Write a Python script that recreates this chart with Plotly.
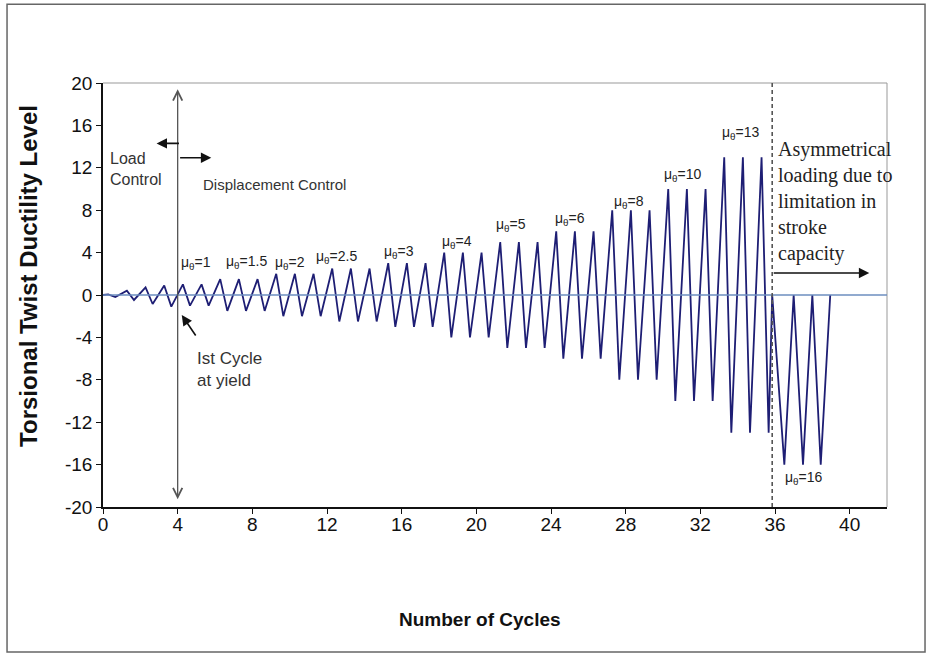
import plotly.graph_objects as go

# ---------------- data ----------------
# one entry per loading cycle (cycle n starts at n)
peak_values = [0.05, 0.4, 0.72, 0.9, 1, 1,
               1.5, 1.5, 1.5, 2, 2, 2, 2.5, 2.5, 2.5,
               3, 3, 3, 4, 4, 4, 5, 5, 5, 6, 6, 6,
               8, 8, 8, 10, 10, 10, 13, 13, 13]
trough_values = [-0.2, -0.47, -0.85, -1.1, -1, -1,
                 -1.5, -1.5, -1.5, -2, -2, -2, -2.5, -2.5, -2.5,
                 -3, -3, -3, -4, -4, -4, -5, -5, -5, -6, -6, -6,
                 -8, -8, -8, -10, -10, -10, -13, -13, -13]
peak_phase = 0.28     # position of the peak within a cycle
trough_phase = 0.66   # position of the trough within a cycle

# asymmetrical tail (stroke limitation)
tail_cycles = [35.85, 36.5, 37.0, 37.5, 38.0, 38.45, 38.96]
tail_values = [0, -16, 0, -16, 0, -16, 0]

# ductility level labels
mu_labels = ["1", "1.5", "2", "2.5", "3", "4", "5", "6", "8", "10", "13", "16"]
mu_label_x = [5.0, 7.68, 10.04, 12.5, 15.84, 18.97, 21.86, 25.0, 28.2, 31.07, 34.13, 37.5]
mu_label_y = [3.05, 3.14, 3.05, 3.6, 4.08, 5.03, 6.6, 7.14, 8.8, 11.3, 15.25, -17.3]

x_ticks = list(range(0, 41, 4))
x_tick_text = [str(v) for v in x_ticks]
y_ticks = list(range(-20, 21, 4))
y_tick_text = ["-20", "-16", "-12", "-8", "-4", "0", "4", "8", "12", "16", "20"]

# ---------------- build series ----------------
xs, ys = [0.0], [0.0]
for n, (p, t) in enumerate(zip(peak_values, trough_values)):
    xs += [n + peak_phase, n + trough_phase]
    ys += [p, t]
xs += tail_cycles
ys += tail_values

fig = go.Figure()
fig.add_trace(go.Scatter(x=xs, y=ys, mode="lines",
                         line=dict(color="#1e1e74", width=1.8),
                         hoverinfo="skip", showlegend=False))

SANS = "Liberation Sans, Arial, sans-serif"
SERIF = "Liberation Serif, Times New Roman, serif"

ann = []
for lab, lx, ly in zip(mu_labels, mu_label_x, mu_label_y):
    ann.append(dict(x=lx, y=ly, xref="x", yref="y", showarrow=False,
                    text="μ<sub>θ</sub>=" + lab,
                    font=dict(family=SANS, size=14, color="#222")))

# vertical double arrow at cycle 4
ann.append(dict(x=4, y=19.4, ax=4, ay=-19.4, xref="x", yref="y",
                axref="x", ayref="y", text="", showarrow=True,
                arrowhead=5, startarrowhead=5, arrowside="end+start",
                arrowsize=1.4, startarrowsize=1.4, arrowwidth=1.3,
                arrowcolor="#555"))
# load / displacement control arrows
ann.append(dict(x=2.87, y=14.3, ax=4.15, ay=14.3, xref="x", yref="y",
                axref="x", ayref="y", text="", showarrow=True,
                arrowhead=2, arrowsize=1.3, arrowwidth=1.6, arrowcolor="#111"))
ann.append(dict(x=5.8, y=12.95, ax=4.05, ay=12.95, xref="x", yref="y",
                axref="x", ayref="y", text="", showarrow=True,
                arrowhead=2, arrowsize=1.3, arrowwidth=1.6, arrowcolor="#111"))
# first cycle at yield arrow
ann.append(dict(x=4.22, y=-1.89, ax=5.02, ay=-3.96, xref="x", yref="y",
                axref="x", ayref="y", text="", showarrow=True,
                arrowhead=2, arrowsize=1.3, arrowwidth=1.6, arrowcolor="#111"))
# stroke arrow
ann.append(dict(x=41.05, y=2.07, ax=35.85, ay=2.07, xref="x", yref="y",
                axref="x", ayref="y", text="", showarrow=True,
                arrowhead=2, arrowsize=1.3, arrowwidth=1.6, arrowcolor="#111"))

# text notes
ann.append(dict(x=0.27, y=11.9, xref="x", yref="y", showarrow=False,
                xanchor="left", align="left", text="Load<br>Control",
                font=dict(family=SANS, size=16, color="#333")))
ann.append(dict(x=5.27, y=10.4, xref="x", yref="y", showarrow=False,
                xanchor="left", align="left", text="Displacement Control",
                font=dict(family=SANS, size=15, color="#333")))
ann.append(dict(x=4.91, y=-7.0, xref="x", yref="y", showarrow=False,
                xanchor="left", align="left", text="Ist Cycle<br>at yield",
                font=dict(family=SANS, size=17, color="#333")))
ann.append(dict(x=36.07, y=8.8, xref="x", yref="y", showarrow=False,
                xanchor="left", align="left",
                text="Asymmetrical<br>loading due to<br>limitation in<br>stroke<br>capacity",
                font=dict(family=SERIF, size=20, color="#222")))

# axis titles
ann.append(dict(x=0.481, y=-0.2665, xref="paper", yref="paper", showarrow=False,
                text="<b>Number of Cycles</b>", yanchor="middle",
                font=dict(family=SANS, size=19, color="#111")))
ann.append(dict(x=-0.0944, y=0.545, xref="paper", yref="paper", showarrow=False,
                text="<b>Torsional Twist Ductility Level</b>", textangle=-90,
                xanchor="center", yanchor="middle",
                font=dict(family=SANS, size=24, color="#111")))

shapes = [
    # outer frame
    dict(type="rect", xref="paper", yref="paper",
         x0=-0.1224, x1=1.0485, y0=-0.342, y1=1.186,
         line=dict(color="#666", width=1.5)),
    # plot area top/right border
    dict(type="line", xref="paper", yref="paper", x0=0, x1=1, y0=1, y1=1,
         line=dict(color="#999", width=1)),
    dict(type="line", xref="paper", yref="paper", x0=1, x1=1, y0=0, y1=1,
         line=dict(color="#999", width=1)),
    # zero line
    dict(type="line", xref="paper", yref="y", x0=0, x1=1, y0=0, y1=0,
         line=dict(color="#6c8ebf", width=1.5), layer="above"),
    # dashed separator
    dict(type="line", xref="x", yref="y", x0=35.85, x1=35.85, y0=-20, y1=20,
         line=dict(color="#555", width=1.6, dash="4px,3px")),
]

fig.update_layout(
    width=934, height=659,
    margin=dict(l=103, r=47, t=83, b=152),
    paper_bgcolor="white", plot_bgcolor="white",
    annotations=ann, shapes=shapes,
    xaxis=dict(range=[0, 42], tickvals=x_ticks, ticktext=x_tick_text,
               showgrid=False, zeroline=False,
               showline=True, linecolor="#111", linewidth=1.5,
               ticks="outside", ticklen=5, tickcolor="#111",
               ticklabelstandoff=-6,
               tickfont=dict(family=SANS, size=19, color="#111")),
    yaxis=dict(range=[-20, 20], tickvals=y_ticks, ticktext=y_tick_text,
               showgrid=False, zeroline=False,
               showline=True, linecolor="#111", linewidth=1.5,
               ticks="outside", ticklen=5, tickcolor="#111",
               tickfont=dict(family=SANS, size=19, color="#111")),
)

fig.write_html("out.html",
               config={"displayModeBar": False},
               post_script="document.body.style.margin='0';document.body.style.overflow='hidden';")
